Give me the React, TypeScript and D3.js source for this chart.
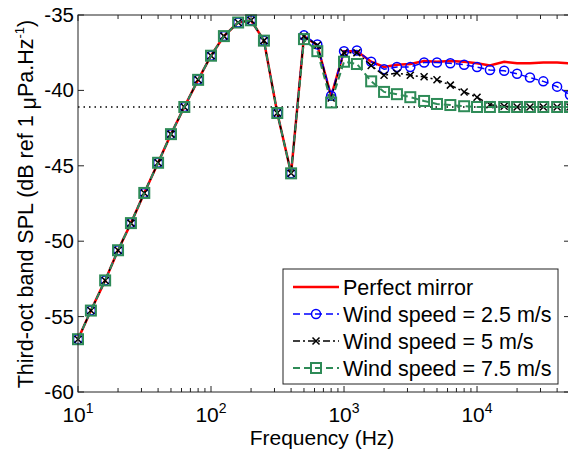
import React from "react";
import * as d3 from "d3";

// third-octave band centre frequencies (Hz)
const freqs = [10, 12.5, 16, 20, 25, 31.5, 40, 50, 63, 80, 100, 125, 160, 200, 250, 315, 400, 500, 630, 800,
  1000, 1250, 1600, 2000, 2500, 3150, 4000, 5000, 6300, 8000, 10000, 12500, 16000, 20000, 25000, 31500, 40000, 50000];

const perfectMirror = [-56.5, -54.6, -52.6, -50.6, -48.8, -46.8, -44.8, -42.9, -41.1, -39.3, -37.7, -36.4, -35.5, -35.35, -36.7, -41.5, -45.5,
  -36.4, -37.0, -40.4, -37.4, -37.4, -38.1, -38.45, -38.3, -38.25, -38.05, -38.1, -38.05, -38.1, -38.2, -38.35, -38.1, -38.2, -38.2, -38.15, -38.15, -38.2];
const wind25 = [-56.5, -54.6, -52.6, -50.6, -48.8, -46.8, -44.8, -42.9, -41.1, -39.3, -37.7, -36.4, -35.5, -35.35, -36.7, -41.5, -45.5,
  -36.35, -36.95, -40.35, -37.4, -37.35, -38.1, -38.6, -38.45, -38.45, -38.15, -38.15, -38.2, -38.3, -38.45, -38.65, -38.7, -38.9, -39.15, -39.4, -39.75, -40.3];
const wind5 = [-56.5, -54.6, -52.6, -50.6, -48.8, -46.8, -44.8, -42.9, -41.1, -39.3, -37.7, -36.4, -35.5, -35.35, -36.7, -41.5, -45.5,
  -36.4, -37.0, -40.5, -37.5, -37.5, -38.35, -39.0, -38.85, -39.0, -39.1, -39.3, -39.65, -40.1, -40.45, -40.95, -41.05, -41.1, -41.1, -41.1, -41.1, -41.1];
const wind75 = [-56.5, -54.6, -52.6, -50.6, -48.8, -46.8, -44.8, -42.9, -41.1, -39.3, -37.7, -36.4, -35.5, -35.35, -36.7, -41.5, -45.5,
  -36.6, -37.4, -40.8, -38.1, -38.25, -39.4, -40.1, -40.25, -40.45, -40.7, -40.9, -40.97, -41.05, -41.1, -41.1, -41.1, -41.1, -41.1, -41.1, -41.1, -41.1];

const refLevel = -41.1;
const yTicks = [-60, -55, -50, -45, -40, -35];
const xDecades = [1, 2, 3, 4];
const legendLabels = ["Perfect mirror", "Wind speed = 2.5 m/s", "Wind speed = 5 m/s", "Wind speed = 7.5 m/s"];

const GREEN = "#2e8b57";
const font = "'Liberation Sans', Arial, sans-serif";

export default function App() {
  const left = 78, right = 570, top = 15, bottom = 392;
  const x = d3.scaleLog().domain([10, 50000]).range([left, right]);
  const y = d3.scaleLinear().domain([-60, -35]).range([bottom, top]);

  const line = (vals: number[]) =>
    d3.line<number>().x((_, i) => x(freqs[i])).y(d => y(d))(vals) || "";

  const minor: number[] = [];
  [1, 2, 3, 4].forEach(e => {
    for (let k = 2; k <= 9; k++) {
      const v = k * Math.pow(10, e);
      if (v < 50000) minor.push(v);
    }
  });

  const circle = (cx: number, cy: number, key: any) => (
    <circle key={key} cx={cx} cy={cy} r={4.5} fill="none" stroke="#0000ff" strokeWidth={1.5} />
  );
  const cross = (cx: number, cy: number, key: any) => (
    <path key={key} d={`M${cx - 3.5},${cy - 3.5}L${cx + 3.5},${cy + 3.5}M${cx - 3.5},${cy + 3.5}L${cx + 3.5},${cy - 3.5}`}
      stroke="#000" strokeWidth={1.5} />
  );
  const square = (cx: number, cy: number, key: any) => (
    <rect key={key} x={cx - 5} y={cy - 5} width={10} height={10} fill="none" stroke={GREEN} strokeWidth={2} />
  );

  const legendY = [287, 314, 341, 368];

  return (
    <svg width={568} height={452} style={{ position: "absolute", left: 0, top: 0, background: "#fff" }}
      fontFamily={font}>
      <rect x={0} y={0} width={568} height={452} fill="#fff" />

      {/* reference level */}
      <line x1={left} x2={right} y1={y(refLevel)} y2={y(refLevel)} stroke="#000" strokeWidth={1.5} strokeDasharray="1.5,4" />

      <path d={line(perfectMirror)} fill="none" stroke="#ff0000" strokeWidth={2.5} />
      <path d={line(wind25)} fill="none" stroke="#0000ff" strokeWidth={1.5} strokeDasharray="7,4" />
      {wind25.map((v, i) => circle(x(freqs[i]), y(v), "c" + i))}
      <path d={line(wind5)} fill="none" stroke="#000" strokeWidth={1.5} strokeDasharray="7,3,2,3" />
      {wind5.map((v, i) => cross(x(freqs[i]), y(v), "x" + i))}
      <path d={line(wind75)} fill="none" stroke={GREEN} strokeWidth={2} strokeDasharray="7,4" />
      {wind75.map((v, i) => square(x(freqs[i]), y(v), "s" + i))}

      {/* axes box */}
      <rect x={left} y={top} width={right - left} height={bottom - top} fill="none" stroke="#222" strokeWidth={1} />

      {/* x ticks */}
      {xDecades.map(e => {
        const px = x(Math.pow(10, e));
        return (
          <g key={"xd" + e}>
            <line x1={px} x2={px} y1={bottom} y2={bottom - 6} stroke="#222" />
            <line x1={px} x2={px} y1={top} y2={top + 6} stroke="#222" />
            <text x={px} y={422} textAnchor="middle" fontSize={21}>
              10<tspan fontSize={14} dy={-9}>{e}</tspan>
            </text>
          </g>
        );
      })}
      {minor.map(v => (
        <g key={"xm" + v}>
          <line x1={x(v)} x2={x(v)} y1={bottom} y2={bottom - 4} stroke="#222" />
          <line x1={x(v)} x2={x(v)} y1={top} y2={top + 4} stroke="#222" />
        </g>
      ))}

      {/* y ticks */}
      {yTicks.map(t => (
        <g key={"y" + t}>
          <line x1={left} x2={left + 6} y1={y(t)} y2={y(t)} stroke="#222" />
          <line x1={right - 6} x2={right} y1={y(t)} y2={y(t)} stroke="#222" />
          <text x={74} y={y(t) + 7} textAnchor="end" fontSize={20.5}>{t}</text>
        </g>
      ))}

      <text x={322} y={445} textAnchor="middle" fontSize={21}>Frequency (Hz)</text>
      <text transform={`translate(33,204) rotate(-90)`} textAnchor="middle" fontSize={21.5}>
        Third-oct band SPL (dB ref 1 <tspan dy={3}>μ</tspan><tspan dy={-3}>Pa.Hz</tspan>
        <tspan fontSize={13} dy={-9}>-1</tspan><tspan dy={9}>)</tspan>
      </text>

      {/* legend */}
      <rect x={283} y={269} width={275} height={115} fill="#fff" stroke="#222" strokeWidth={1} />
      {legendLabels.map((lab, i) => {
        const ly = legendY[i];
        return (
          <g key={"lg" + i}>
            {i === 0 && <line x1={293} x2={339} y1={ly} y2={ly} stroke="#ff0000" strokeWidth={2.5} />}
            {i === 1 && <>
              <line x1={293} x2={339} y1={ly} y2={ly} stroke="#0000ff" strokeWidth={1.5} strokeDasharray="7,4" />
              {circle(316, ly, "lc")}
            </>}
            {i === 2 && <>
              <line x1={293} x2={339} y1={ly} y2={ly} stroke="#000" strokeWidth={1.5} strokeDasharray="7,3,2,3" />
              {cross(316, ly, "lx")}
            </>}
            {i === 3 && <>
              <line x1={293} x2={339} y1={ly} y2={ly} stroke={GREEN} strokeWidth={2} strokeDasharray="7,4" />
              {square(316, ly, "ls")}
            </>}
            <text x={343} y={ly + 7.5} fontSize={21.5}>{lab}</text>
          </g>
        );
      })}
    </svg>
  );
}
